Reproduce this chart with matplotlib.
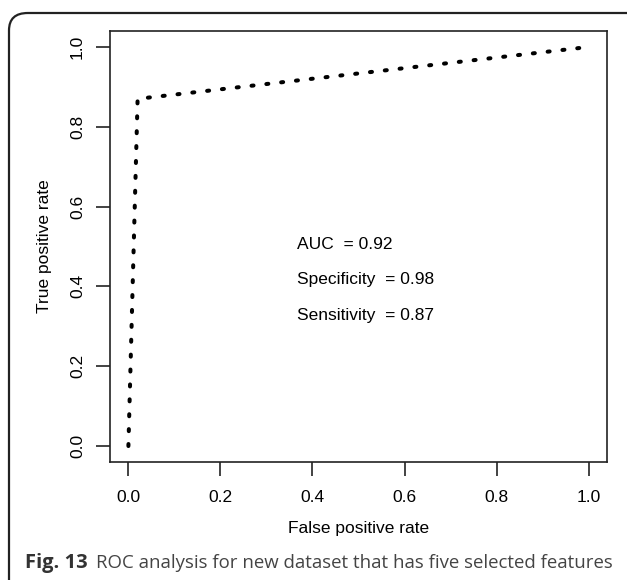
import matplotlib
matplotlib.use("Agg")
import matplotlib.pyplot as plt
from matplotlib.patches import FancyBboxPatch

# ROC points
fpr = [0.0, 0.02, 1.0]
tpr = [0.0, 0.87, 1.0]
ticks = [0.0, 0.2, 0.4, 0.6, 0.8, 1.0]
tick_labels = ["0.0", "0.2", "0.4", "0.6", "0.8", "1.0"]
stats_names = ["AUC", "Specificity", "Sensitivity"]
stats_values = [0.92, 0.98, 0.87]

W, H = 627, 580
fig = plt.figure(figsize=(W / 100, H / 100), dpi=100)
plt.rcParams['font.family'] = ['Liberation Sans', 'DejaVu Sans']

# rounded frame around the figure (top-left corner visible)
frame = FancyBboxPatch((9 / W, -0.2), 1.2, (H - 13) / H + 0.2,
                       boxstyle="round,pad=0,rounding_size=0.03",
                       transform=fig.transFigure, fill=False,
                       edgecolor="#222222", linewidth=1.6, clip_on=False)
fig.patches.append(frame)

ax = fig.add_axes([110 / W, 1 - 462 / H, (607 - 110) / W, (462 - 31) / H])
ax.plot(fpr, tpr, color="black", linewidth=2.9, linestyle=(0, (0.5, 3.2)),
        dash_capstyle="round")
ax.set_xlim(-0.04, 1.04)
ax.set_ylim(-0.04, 1.04)

ax.set_xticks(ticks)
ax.set_xticklabels(tick_labels, fontsize=12.5)
ax.set_yticks(ticks)
ax.set_yticklabels(tick_labels, fontsize=12.5, rotation=90, va="center")
ax.tick_params(length=10, width=1.2, color="#222222")
ax.tick_params(axis="x", pad=10)
ax.tick_params(axis="y", pad=8)
for s in ax.spines.values():
    s.set_linewidth(1.2)
    s.set_color("#222222")
ax.set_xlabel("False positive rate", fontsize=12.5, labelpad=12)
ax.set_ylabel("True positive rate", fontsize=12.5, labelpad=13)

for i, (n, v) in enumerate(zip(stats_names, stats_values)):
    ax.text(0.367, 0.506 - i * 0.089, f"{n}  = {v:.2f}", fontsize=12.5,
            va="center", ha="left")

fig.text(25 / W, 1 - 563 / H, "Fig. 13", fontsize=14.5, fontweight="bold",
         family=["Open Sans", "DejaVu Sans"], color="#333333", va="center")
fig.text(96 / W, 1 - 563 / H, "ROC analysis for new dataset that has five selected features",
         fontsize=13.4, family=["Open Sans", "DejaVu Sans"], color="#444444", va="center")

fig.savefig("out.png", dpi=100)
